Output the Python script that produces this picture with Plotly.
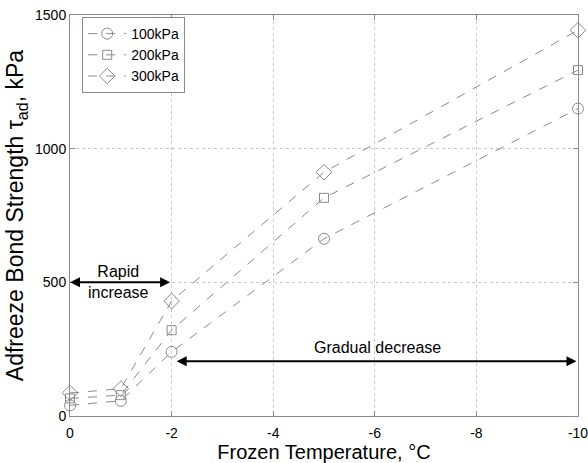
import plotly.graph_objects as go

temps = [0, -1, -2, -5, -10]
s100 = [40, 57, 240, 663, 1150]
s200 = [66, 78, 321, 816, 1294]
s300 = [86, 102, 430, 912, 1443]
series_names = ["100kPa", "200kPa", "300kPa"]
symbols = ["circle-open", "square-open", "diamond-open"]
x_ticks = [0, -2, -4, -6, -8, -10]
y_ticks = [0, 500, 1000, 1500]

gray = "#8a8a8a"
fig = go.Figure()
for name, vals, sym, sz in zip(series_names, [s100, s200, s300], symbols, [11, 9, 12]):
    fig.add_trace(go.Scatter(
        x=temps, y=vals, name=name, mode="lines+markers", cliponaxis=False,
        line=dict(color=gray, width=1, dash="dash"),
        marker=dict(symbol=sym, size=sz, color=gray, line=dict(width=1, color=gray)),
    ))

font = "Liberation Sans, Arial, sans-serif"
# arrows
fig.add_annotation(x=0, y=500, ax=-2, ay=500, xref="x", yref="y", axref="x", ayref="y",
                   showarrow=True, arrowhead=2, arrowside="end+start", arrowwidth=2,
                   arrowsize=1, arrowcolor="black", text="")
fig.add_annotation(x=-2.1, y=205, ax=-10, ay=205, xref="x", yref="y", axref="x", ayref="y",
                   showarrow=True, arrowhead=2, arrowside="end+start", arrowwidth=2,
                   arrowsize=1, arrowcolor="black", text="")
fig.add_annotation(x=-0.95, y=500, xref="x", yref="y", text="Rapid<br>increase",
                   showarrow=False, font=dict(family=font, size=16, color="black"),
                   yanchor="middle")
fig.add_annotation(x=-6.05, y=255, xref="x", yref="y", text="Gradual decrease",
                   showarrow=False, font=dict(family=font, size=16, color="black"))

fig.update_layout(
    width=588, height=463,
    margin=dict(l=70, r=10, t=15, b=47),
    paper_bgcolor="white", plot_bgcolor="white",
    font=dict(family=font, size=14, color="black"),
    showlegend=True,
    legend=dict(x=0.024, y=0.995, xanchor="left", yanchor="top",
                bgcolor="white", bordercolor=gray, borderwidth=1,
                font=dict(size=14), tracegroupgap=0, itemwidth=38),
    xaxis=dict(range=[0, -10], tickvals=x_ticks, ticktext=[str(v) for v in x_ticks],
               showgrid=True, gridcolor="#c8c8c8", griddash="dot", gridwidth=1,
               showline=True, linecolor=gray, mirror="allticks", ticks="inside",
               ticklen=5, tickcolor=gray, zeroline=False, ticklabeloverflow="allow",
               ticklabelstandoff=4, automargin=False,
               title=dict(text="Frozen Temperature, °C", font=dict(size=20), standoff=0)),
    yaxis=dict(range=[0, 1500], tickvals=y_ticks,
               showgrid=True, gridcolor="#c8c8c8", griddash="dot", gridwidth=1,
               showline=True, linecolor=gray, mirror="allticks", ticks="inside",
               ticklen=5, tickcolor=gray, zeroline=False, ticklabeloverflow="allow",
               automargin=False,
               title=dict(text="Adfreeze Bond Strength τ<sub>ad</sub>, kPa", font=dict(size=23), standoff=4)),
)
fig.write_html("out.html", config={"displayModeBar": False},
               post_script="document.body.style.margin='0';document.body.style.overflow='hidden';")
